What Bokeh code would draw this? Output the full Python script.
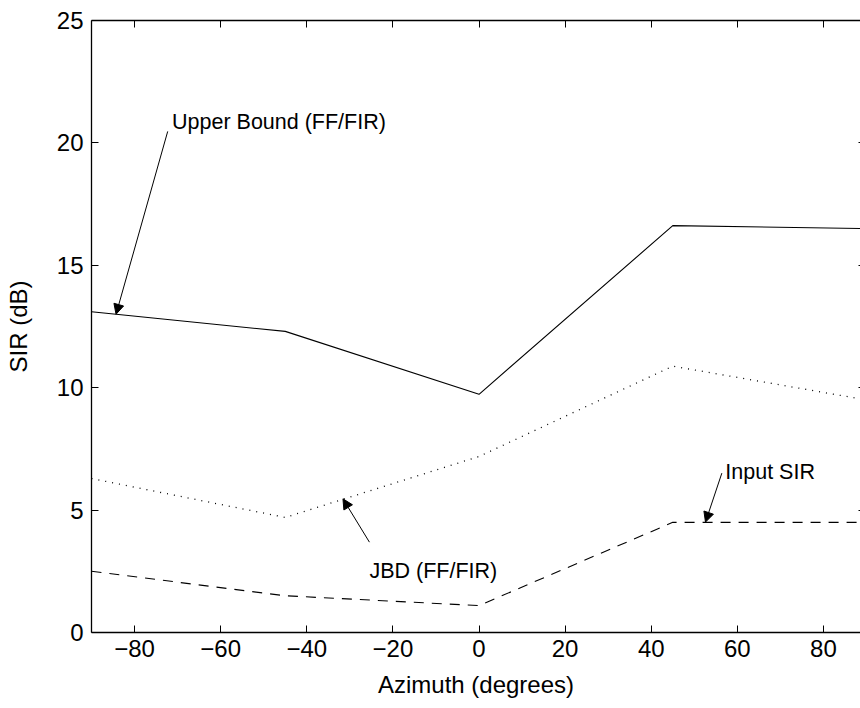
from bokeh.plotting import figure
from bokeh.models import Range1d, FixedTicker, LinearAxis, Arrow, NormalHead, Label
from bokeh.embed import file_html
from bokeh.resources import INLINE

# ---- data ----
azimuth = [-90, -45, 0, 45, 90]
upper_bound = [13.1, 12.3, 9.73, 16.62, 16.5]
jbd = [6.29, 4.70, 7.19, 10.88, 9.5]
input_sir = [2.5, 1.5, 1.1, 4.5, 4.5]

x_ticks = [-80, -60, -40, -20, 0, 20, 40, 60, 80]
x_tick_labels = ["\u221280", "\u221260", "\u221240", "\u221220", "0", "20", "40", "60", "80"]
y_ticks = [0, 5, 10, 15, 20, 25]
y_tick_labels = ["0", "5", "10", "15", "20", "25"]

ann_text = ["Upper Bound (FF/FIR)", "JBD (FF/FIR)", "Input SIR"]
ann_text_x = [-71.3, -25.45, 57.2]
ann_text_y = [20.84, 2.53, 6.55]
arrow_x_start = [-72.3, -25.45, 56.4]
arrow_y_start = [20.47, 3.69, 6.51]
arrow_x_end = [-84.3, -31.6, 52.6]
arrow_y_end = [13.0, 5.46, 4.51]

FONT = "Liberation Sans"
TICK_FS = "24px"
LABEL_FS = "24px"
ANN_FS = "21.5px"

p = figure(width=860, height=708, output_backend="svg", toolbar_location=None,
           x_range=Range1d(-90, 88.6), y_range=Range1d(0, 25),
           min_border_left=91, min_border_top=20, min_border_bottom=76, min_border_right=0)
p.outline_line_color = None
p.background_fill_color = "white"
p.border_fill_color = "white"
p.xgrid.grid_line_color = None
p.ygrid.grid_line_color = None

def style_axis(ax, ticks, labels=None, show_labels=True, tick_in=7, line=True):
    ax.ticker = FixedTicker(ticks=ticks)
    ax.major_tick_in = tick_in
    ax.major_tick_out = 0
    ax.major_tick_line_color = "black"
    ax.major_tick_line_width = 1
    ax.minor_tick_line_color = None
    ax.axis_line_color = "black" if line else None
    ax.axis_line_width = 1.3
    if show_labels:
        ax.major_label_overrides = {t: l for t, l in zip(ticks, labels)}
        ax.major_label_text_font = FONT
        ax.major_label_text_font_size = TICK_FS
        ax.major_label_text_color = "black"
    else:
        ax.major_label_overrides = {t: "" for t in ticks}
        ax.major_label_text_font_size = "1px"
        ax.major_label_standoff = 0

xa = p.xaxis[0]
style_axis(xa, x_ticks, x_tick_labels)
xa.major_label_standoff = 7
xa.axis_label = "Azimuth (degrees)"
xa.axis_label_text_font = FONT
xa.axis_label_text_font_size = LABEL_FS
xa.axis_label_text_font_style = "normal"
xa.axis_label_text_color = "black"
xa.axis_label_standoff = 11

ya = p.yaxis[0]
style_axis(ya, y_ticks, y_tick_labels)
ya.major_label_standoff = 8
ya.axis_label = "SIR (dB)"
ya.axis_label_text_font = FONT
ya.axis_label_text_font_size = LABEL_FS
ya.axis_label_text_font_style = "normal"
ya.axis_label_text_color = "black"
ya.axis_label_standoff = 22

top = LinearAxis()
style_axis(top, x_ticks, show_labels=False)
p.add_layout(top, "above")

right = LinearAxis()
style_axis(right, y_ticks, show_labels=False, tick_in=2, line=False)
p.add_layout(right, "right")

p.line(azimuth, upper_bound, line_color="black", line_width=1.1)
p.line(azimuth, jbd, line_color="black", line_width=1.3, line_dash="1 6")
p.line(azimuth, input_sir, line_color="black", line_width=1.1, line_dash="10 8")

for t, tx, ty, xs, ys, xe, ye in zip(ann_text, ann_text_x, ann_text_y,
                                     arrow_x_start, arrow_y_start, arrow_x_end, arrow_y_end):
    p.add_layout(Arrow(end=NormalHead(size=10, fill_color="black", line_color="black", line_width=1),
                       x_start=xs, y_start=ys, x_end=xe, y_end=ye,
                       line_color="black", line_width=1))
    p.add_layout(Label(x=tx, y=ty, text=t, text_font=FONT, text_font_size=ANN_FS,
                       text_color="black", text_baseline="alphabetic", text_align="left"))

open("out.html", "w").write(file_html(p, INLINE))
